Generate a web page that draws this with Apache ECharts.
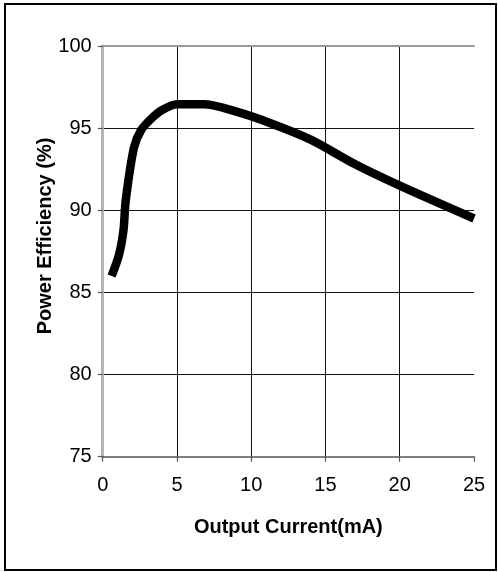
<!DOCTYPE html>
<html>
<head>
<meta charset="utf-8">
<script src="https://cdn.jsdelivr.net/npm/echarts@6/dist/echarts.min.js"></script>
<style>
html,body{margin:0;padding:0;background:#fff;}
#c{width:498px;height:572px;}
</style>
</head>
<body>
<div id="c"></div>
<script>
var currentMA = [0.6, 1.1, 1.4, 1.55, 2.1, 2.6, 3.3, 4.0, 5.0, 6.8, 9.0, 11.3, 14.0, 17.0, 20.0, 25.0];
var efficiency = [86.0, 87.3, 88.8, 90.6, 93.8, 94.9, 95.6, 96.1, 96.45, 96.45, 96.0, 95.3, 94.3, 92.8, 91.5, 89.5];
var xTicks = [0, 5, 10, 15, 20, 25];
var yTicks = [75, 80, 85, 90, 95, 100];
var xTitle = 'Output Current(mA)';
var yTitle = 'Power Efficiency (%)';

var pts = currentMA.map(function (x, i) { return [x, efficiency[i]]; });
var font = '"Liberation Sans", Arial, sans-serif';

var chart = echarts.init(document.getElementById('c'), null, {renderer: 'canvas'});
chart.setOption({
  animation: false,
  backgroundColor: '#fff',
  grid: {left: 102.7, right: 24, top: 46, bottom: 115.3},
  graphic: [{
    type: 'rect', shape: {x: 5, y: 4, width: 491, height: 566},
    style: {fill: 'none', stroke: '#000', lineWidth: 2}, z: -1
  }, {
    type: 'text', x: 45, y: 236, rotation: Math.PI / 2,
    style: {text: yTitle, font: 'bold 20px ' + font, fill: '#000', align: 'center', verticalAlign: 'middle'}
  }],
  xAxis: [{
    type: 'value', min: xTicks[0], max: xTicks[xTicks.length - 1], interval: 5,
    name: xTitle, nameLocation: 'middle', nameGap: 61,
    nameTextStyle: {fontFamily: font, fontSize: 20, fontWeight: 'bold', color: '#000'},
    axisLine: {show: true, onZero: false, lineStyle: {color: '#555', width: 1.5}},
    axisTick: {show: true, length: 5, lineStyle: {color: '#555', width: 1.2}},
    axisLabel: {fontFamily: font, fontSize: 20, color: '#000', margin: 19},
    splitLine: {show: true, showMinLine: false, showMaxLine: false, lineStyle: {color: '#111', width: 1}}
  }, {
    type: 'value', position: 'top', min: 0, max: 25,
    axisLine: {show: true, lineStyle: {color: '#9a9a9a', width: 2}},
    axisTick: {show: false}, axisLabel: {show: false}, splitLine: {show: false}
  }],
  yAxis: [{
    type: 'value', min: yTicks[0], max: yTicks[yTicks.length - 1], interval: 5,
    axisLine: {show: true, onZero: false, lineStyle: {color: '#555', width: 1.5}},
    axisTick: {show: true, length: 5, lineStyle: {color: '#555', width: 1.2}},
    axisLabel: {fontFamily: font, fontSize: 20, color: '#000', margin: 11},
    splitLine: {show: true, showMinLine: false, showMaxLine: false, lineStyle: {color: '#111', width: 1}}
  }, {
    type: 'value', position: 'right', min: 75, max: 100,
    axisLine: {show: true, lineStyle: {color: '#b5b5b5', width: 3}},
    axisTick: {show: false}, axisLabel: {show: false}, splitLine: {show: false}
  }],
  series: [{
    type: 'line', data: pts, xAxisIndex: 0, yAxisIndex: 0,
    showSymbol: false, smooth: 0.3,
    lineStyle: {color: '#000', width: 8.5, cap: 'butt', join: 'round'}
  }]
});
</script>
</body>
</html>
